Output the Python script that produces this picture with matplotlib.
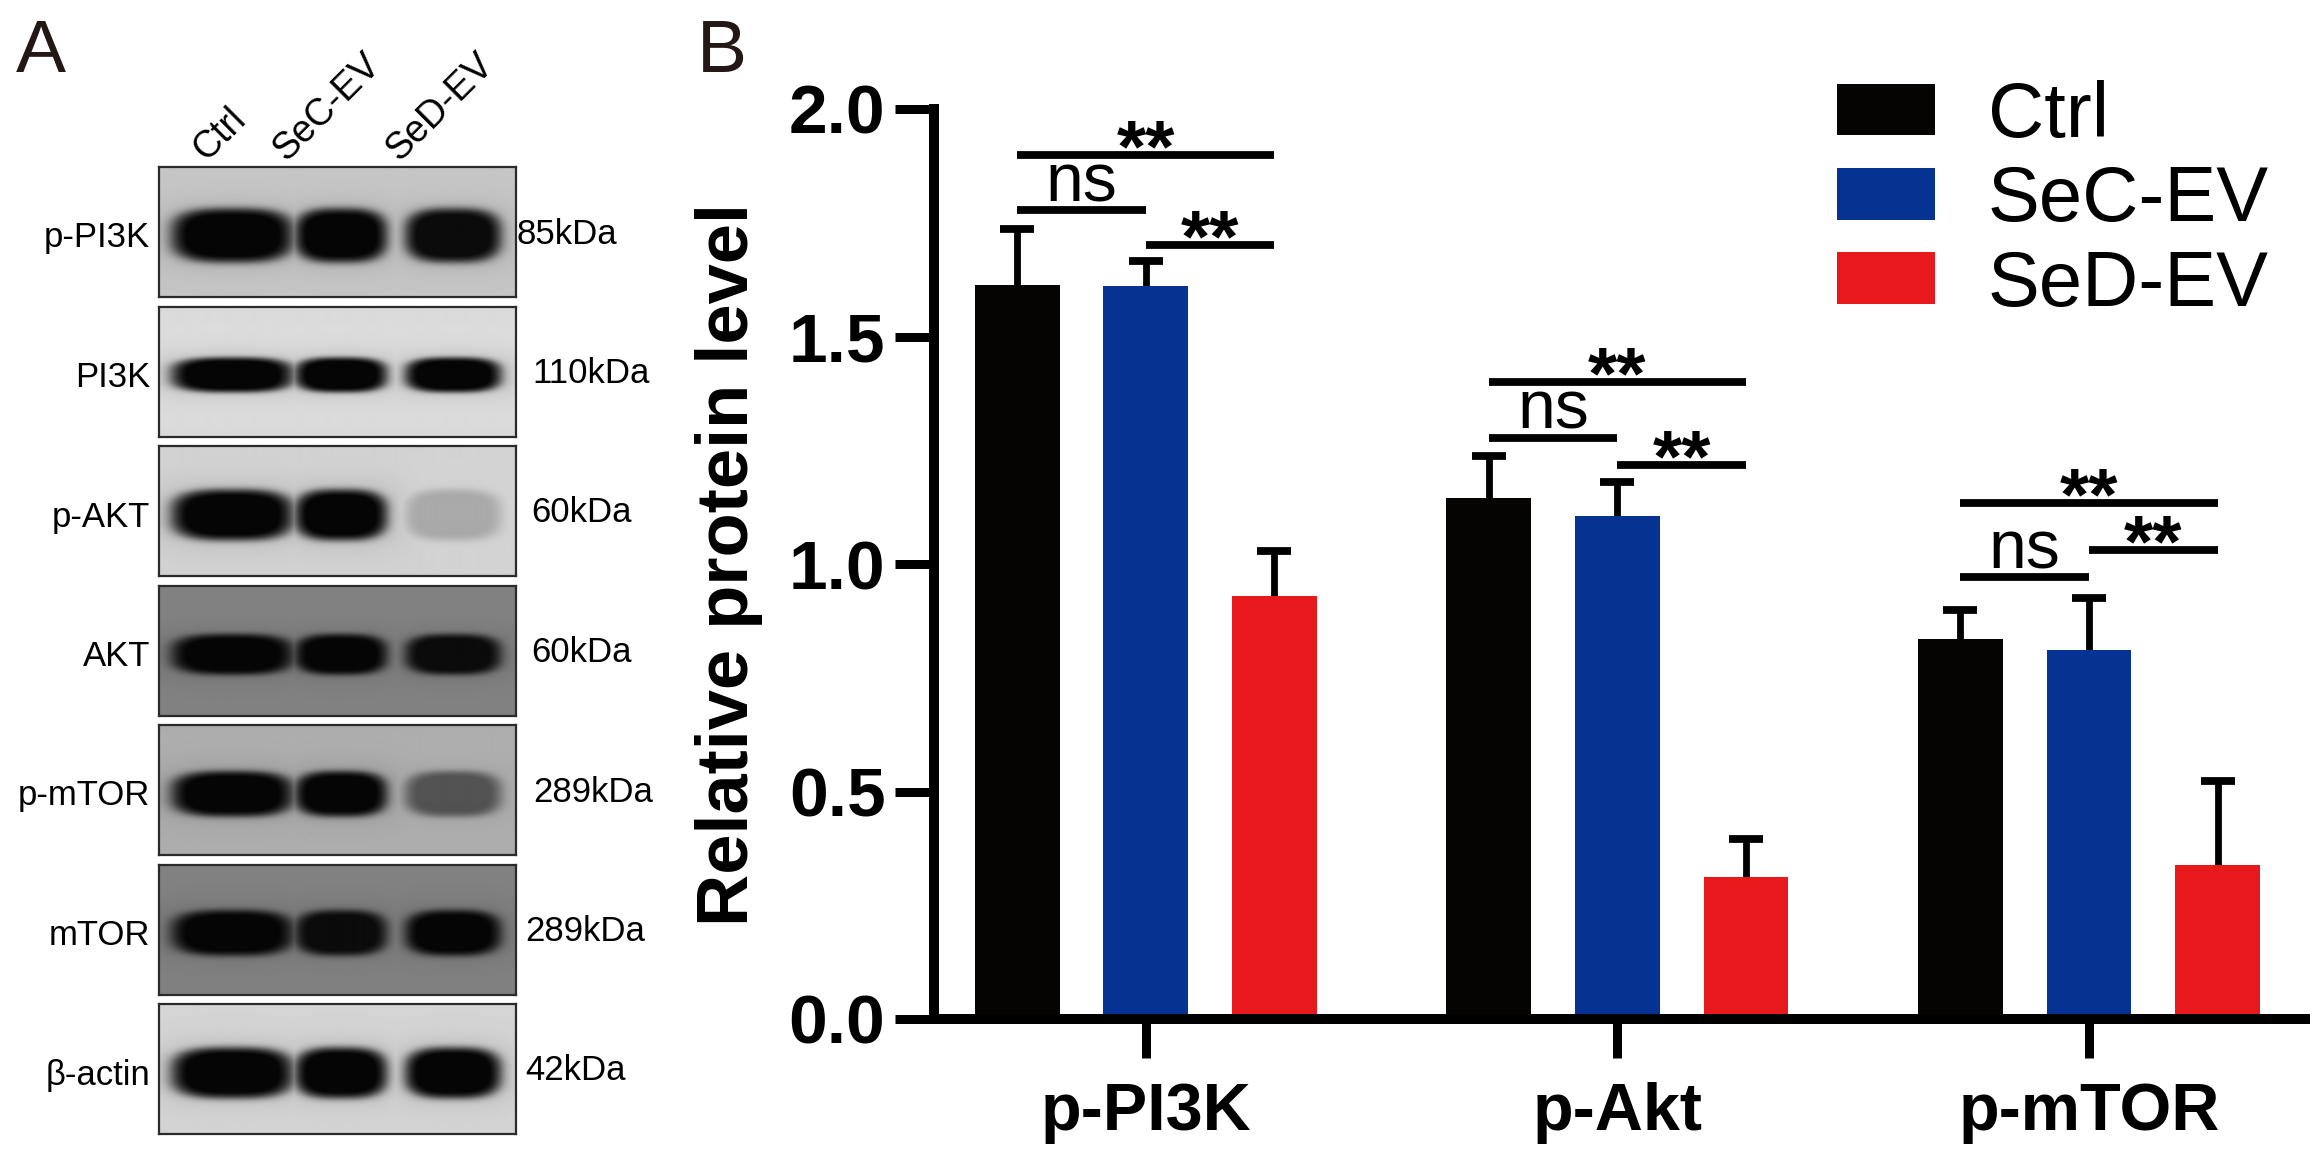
import numpy as np
import matplotlib
matplotlib.use("Agg")
import matplotlib.pyplot as plt

plt.rcParams['font.family'] = ['Liberation Sans', 'DejaVu Sans']

# ---- panel B data ----
groups = ['p-PI3K', 'p-Akt', 'p-mTOR']
series = ['Ctrl', 'SeC-EV', 'SeD-EV']
ctrl_mean = [1.614, 1.144, 0.835]
sec_mean = [1.610, 1.106, 0.811]
sed_mean = [0.930, 0.313, 0.339]
ctrl_err = [0.122, 0.094, 0.064]
sec_err = [0.056, 0.075, 0.115]
sed_err = [0.099, 0.082, 0.183]
y_ticks = [0.0, 0.5, 1.0, 1.5, 2.0]

# significance brackets: (bar i, bar j) in each group
sig_pairs = [(0, 2), (0, 1), (1, 2)]
sig_labels = ['**', 'ns', '**']
sig_heights = [[1.900, 1.777, 1.701],
               [1.401, 1.278, 1.218],
               [1.135, 0.971, 1.031]]

# ---- panel A data ----
blot_rows = ['p-PI3K', 'PI3K', 'p-AKT', 'AKT', 'p-mTOR', 'mTOR', 'β-actin']
blot_kda = ['85kDa', '110kDa', '60kDa', '60kDa', '289kDa', '289kDa', '42kDa']
lanes = ['Ctrl', 'SeC-EV', 'SeD-EV']
band_strength = [[1.0, 1.0, 0.97],
                 [1.0, 1.0, 1.0],
                 [1.0, 1.0, 0.22],
                 [1.0, 1.0, 0.95],
                 [1.0, 1.0, 0.55],
                 [1.0, 0.95, 1.0],
                 [1.0, 1.0, 1.0]]
background = [0.80, 0.88, 0.85, 0.52, 0.70, 0.52, 0.86]
band_half_height = [0.20, 0.13, 0.19, 0.15, 0.17, 0.17, 0.19]

colors = ['#060303', '#063391', '#e8191c']

W, H = 2322, 1164


def fx(px):
    return px / W


def fy(py):
    return 1 - py / H


def band_image(strengths, bg, half_h, w=360, h=130):
    lane_c = [0.205, 0.51, 0.825]
    lane_hw = [0.165, 0.125, 0.13]
    band_y = 0.53
    X, Y = np.meshgrid(np.linspace(0, 1, w), np.linspace(0, 1, h))
    dark = np.zeros_like(X)
    for c, hw, s in zip(lane_c, lane_hw, strengths):
        r = (np.abs(X - c) / hw) ** 3 + (np.abs(Y - band_y) / half_h) ** 3
        core = 1 / (1 + np.exp((r - 1) / 0.3))
        halo = 0.3 * np.exp(-np.sqrt(r) / 1.0)
        dark = np.maximum(dark, s * np.clip(core + halo, 0, 1))
    # slight vertical shading of the membrane
    shade = 1 - 0.06 * np.abs(Y - 0.5)
    return (bg * shade) * (1 - dark) + 0.02 * dark


fig = plt.figure(figsize=(W / 200, H / 200), dpi=200)

# ---------------- panel A: blots ----------------
box_left, box_right = 159, 516
row_top0, row_pitch, row_h = 167, 139.5, 130
kda_x = [517, 532, 531, 531, 533, 525, 525]

for k, name in enumerate(blot_rows):
    top = row_top0 + k * row_pitch
    axb = fig.add_axes([fx(box_left), fy(top + row_h),
                        fx(box_right) - fx(box_left), row_h / H])
    img = band_image(band_strength[k], background[k], band_half_height[k])
    axb.imshow(img, cmap='gray', vmin=0, vmax=1, aspect='auto',
               interpolation='bilinear')
    axb.set_xticks([])
    axb.set_yticks([])
    for sp in axb.spines.values():
        sp.set_linewidth(0.8)
        sp.set_color('#2a2a2a')
    mid = top + row_h / 2
    fig.text(fx(150), fy(mid + 6), name, ha='right', va='center',
             fontsize=12.5)
    fig.text(fx(kda_x[k]), fy(mid + 2), blot_kda[k], ha='left',
             va='center', fontsize=12.5)

lane_x = [206, 286, 399]
for lx, lane in zip(lane_x, lanes):
    fig.text(fx(lx), fy(162), lane, rotation=45, rotation_mode='anchor',
             ha='left', va='baseline', fontsize=13.5)

fig.text(fx(16), fy(72), 'A', fontsize=27, color='#231815', va='baseline')
fig.text(fx(697), fy(72), 'B', fontsize=27, color='#231815', va='baseline')

# ---------------- panel B: bar chart ----------------
ax = fig.add_axes([fx(934), fy(1019), fx(2305) - fx(934), (1019 - 109) / H])

x = np.arange(len(groups))
step = 0.2727
width = 0.18
means = [ctrl_mean, sec_mean, sed_mean]
errs = [ctrl_err, sec_err, sed_err]

for i in range(3):
    xs = x + (i - 1) * step
    m = np.array(means[i])
    e = np.array(errs[i])
    ax.bar(xs, m, width=width, color=colors[i], label=series[i], zorder=2)
    ax.errorbar(xs, m, yerr=[np.zeros_like(e), e], fmt='none',
                ecolor='black', elinewidth=2.45, capsize=0, zorder=1)
    ax.plot(xs, m + e, ls='none', marker='_', ms=12.2, mew=2.8,
            color='black', zorder=1)

for g in range(len(groups)):
    for (i, j), lab, yv in zip(sig_pairs, sig_labels, sig_heights[g]):
        x1 = g + (i - 1) * step
        x2 = g + (j - 1) * step
        ax.plot([x1, x2], [yv, yv], color='black', lw=2.8,
                solid_capstyle='butt')
        if lab == 'ns':
            ax.annotate(lab, ((x1 + x2) / 2, yv), xytext=(0, 3.3),
                        textcoords='offset points', ha='center',
                        va='baseline', fontsize=24.5)
        else:
            ax.annotate(lab, ((x1 + x2) / 2, yv), xytext=(0, -6),
                        textcoords='offset points', ha='center',
                        va='baseline', fontsize=27, fontweight='bold')

ax.set_xlim(-0.449, 2.458)
ax.set_ylim(0, 2.0)
ax.spines['top'].set_visible(False)
ax.spines['right'].set_visible(False)
for s in ['left', 'bottom']:
    ax.spines[s].set_linewidth(3.6)
ax.set_yticks(y_ticks)
ax.set_yticklabels([f'{v:.1f}' for v in y_ticks], fontsize=25,
                   fontweight='bold')
ax.set_xticks(x)
ax.set_xticklabels(groups, fontsize=24, fontweight='bold')
ax.tick_params(axis='both', width=3.24, length=14)
ax.tick_params(axis='x', pad=8.6)
ax.tick_params(axis='y', pad=3.5)
ax.set_ylabel('Relative protein level', fontsize=26, fontweight='bold')
ax.yaxis.set_label_coords(-0.125, 0.5)

ax.legend(loc='upper left', bbox_to_anchor=(fx(1837), fy(80)),
          bbox_transform=fig.transFigure, frameon=False, fontsize=28,
          handlelength=1.26, handleheight=0.643, handletextpad=0.68,
          labelspacing=0.145, borderpad=0, borderaxespad=0)

fig.savefig('out.png', dpi=200)
